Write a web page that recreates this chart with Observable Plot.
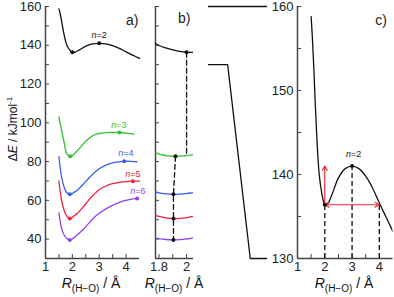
<!DOCTYPE html>
<html><head><meta charset="utf-8">
<script src="https://cdn.jsdelivr.net/npm/d3@7"></script>
<script src="https://cdn.jsdelivr.net/npm/@observablehq/plot@0.6"></script>
<style>
body{margin:0;background:#fff;}
#wrap{position:relative;width:394px;height:297px;overflow:hidden;font-family:"Liberation Sans",Arial,sans-serif;color:#111;}
#wrap svg{position:absolute;left:0;top:0;}
.xt{position:absolute;top:276px;font-size:14px;line-height:14px;white-space:nowrap;transform:translateX(-50%);}
.xt sub{font-size:10px;vertical-align:-4px;line-height:0;}
.yt{position:absolute;left:13px;top:129px;font-size:12px;white-space:nowrap;transform:translate(-50%,-50%) rotate(-90deg);}
.yt sup{font-size:8px;vertical-align:5px;line-height:0;}
</style>
</head><body>
<div id="wrap"></div>
<script>
// ---------- data ----------
const nLabels = ["n=2", "n=3", "n=4", "n=5", "n=6"];
const seriesColors = ["#111111", "#2fbf2f", "#3a5cf0", "#f0203c", "#8f42ee"];
const curveN2 = [[1.5,158.8],[1.55,156],[1.6,152.5],[1.65,148.5],[1.7,145],[1.75,142],[1.8,139.9],[1.85,138.6],[1.9,137.6],[1.95,136.8],[2.0,136.4],[2.1,136.5],[2.25,137.5],[2.5,139.6],[2.75,140.7],[3.0,141],[3.25,140.7],[3.5,139.8],[3.75,138.4],[4.0,136.6],[4.25,134.9],[4.5,133.2]];
const curveN3 = [[1.5,103],[1.6,96],[1.7,89.5],[1.75,85.8],[1.8,83.9],[1.85,83.1],[1.9,82.75],[1.95,82.8],[2.0,83.1],[2.05,83.6],[2.2,85.8],[2.4,89],[2.6,91.8],[2.8,93.6],[3.0,94.5],[3.25,94.9],[3.5,95.1],[3.75,95],[4.0,94.7],[4.3,94.2]];
const curveN4 = [[1.5,82.5],[1.6,72],[1.7,66.5],[1.75,64.9],[1.8,63.9],[1.85,63.35],[1.9,63.1],[1.95,63.2],[2.0,63.5],[2.05,64.0],[2.2,65.5],[2.4,68.2],[2.6,71.3],[2.8,74],[3.0,76.3],[3.25,78.2],[3.5,79.3],[3.75,79.9],[3.93,80.2],[4.2,80.1],[4.4,79.9]];
const curveN5 = [[1.5,70],[1.6,60],[1.7,54.5],[1.75,52.8],[1.8,51.7],[1.85,51.0],[1.9,50.6],[1.95,50.7],[2.0,51.1],[2.05,51.8],[2.2,53.5],[2.4,56.5],[2.6,60],[2.8,63],[3.0,65.5],[3.25,67.4],[3.5,68.6],[3.75,69.3],[4.0,69.7],[4.25,69.9],[4.5,69.9]];
const curveN6 = [[1.5,53.5],[1.6,45.5],[1.7,42],[1.75,41],[1.8,40.3],[1.85,39.8],[1.9,39.6],[1.95,39.7],[2.0,40.1],[2.05,40.7],[2.2,42.4],[2.4,45],[2.6,48],[2.8,51],[3.0,53.3],[3.25,55.6],[3.5,57.4],[3.75,59],[4.0,60],[4.2,60.6],[4.41,60.9]];
const minima = [[2.0,136.4],[1.92,82.7],[1.905,63.1],[1.905,50.6],[1.905,39.6]];
const maxima = [[3.0,141],[3.75,95],[3.93,80.2],[4.25,69.9],[4.41,60.9]];
const labelPos = [[3.0,145.2],[3.73,99],[3.99,84.6],[4.25,73.3],[4.44,64.6]];
const labelPosC = [3.06,142.4];
const dashB1 = [[2.0,136.4],[2.0,83.4]];
const dashB2 = [[1.92,82.7],[1.905,63.1],[1.905,50.6],[1.905,39.6]];
const dashC = [[2,136.4],[3,141],[4,136.6]];
const arrowsC = [[2,136.4,2,141],[3,136.4,2,136.4],[3,136.4,4,136.4]];
const connTop = [[0,160],[1,160]];
const connBottom = [[0,130],[0.33,130],[0.72,30],[1,30]];
// ticks
const yTicksA = [40,50,60,70,80,90,100,110,120,130,140,150,160];
const yLabelsA = [40,60,80,100,120,140,160];
const xTicksA = [1.5,2,2.5,3,3.5,4];
const xLabelsA = [1,2,3,4];
const xTicksB = [1.8,1.9,2.0];
const xLabelsB = [1.8,2];
const yTicksC = [135,140,145,150,155,160];
const yLabelsC = [130,140,150,160];

const curves = [curveN2, curveN3, curveN4, curveN5, curveN6];
const W = 394, H = 297, TOP = 6, BOTTOM = 258;
const axisColor = "#444";

function base(opts) {
  return Plot.plot({
    width: W, height: H,
    marginTop: TOP, marginBottom: H - BOTTOM,
    marginLeft: opts.left, marginRight: W - opts.right,
    x: {domain: opts.x, axis: null},
    y: {domain: opts.y, axis: null},
    style: {background: "transparent", fontFamily: "'Liberation Sans', Arial, sans-serif", fontSize: "13px", color: "#222", overflow: "visible"},
    marks: opts.marks
  });
}
function axes(x0, y0, yt, yl, xt, xl) {
  const m = [
    Plot.ruleX([x0], {stroke: axisColor, strokeWidth: 1.5}),
    Plot.ruleY([y0], {stroke: axisColor, strokeWidth: 1.5}),
    Plot.axisY({ticks: yt, tickSize: 4, dx: 4, text: null, stroke: axisColor}),
    Plot.axisX({ticks: xt, tickSize: 4, dy: -4, text: null, stroke: axisColor})
  ];
  if (yl) m.push(Plot.axisY({ticks: yl, tickSize: 0, tickPadding: 4, tickFormat: d => String(d)}));
  if (xl) m.push(Plot.axisX({ticks: xl, tickSize: 0, tickPadding: 3, tickFormat: d => String(d)}));
  return m;
}
function lines(clip) {
  return curves.map((c, i) => Plot.line(c, {x: d => d[0], y: d => d[1], stroke: seriesColors[i], strokeWidth: 1.3, curve: "catmull-rom", clip}));
}
function italicN(svg) {
  d3.select(svg).selectAll("text").each(function() {
    const t = this.textContent;
    if (/^n=/.test(t) && this.children.length === 0) {
      const s = d3.select(this); s.text("");
      s.append("tspan").attr("font-style", "italic").text("n");
      s.append("tspan").text(t.slice(1));
    }
  });
  return svg;
}

const wrap = document.getElementById("wrap");

// panel a
const pa = base({left: 45, right: 139, x: [1, 4.5], y: [30, 160], marks: [
  ...axes(1, 30, yTicksA, yLabelsA, xTicksA, xLabelsA),
  ...lines(false),
  Plot.dot(minima, {x: d => d[0], y: d => d[1], r: 2, fill: (d, i) => seriesColors[i], stroke: null}),
  Plot.dot(maxima, {x: d => d[0], y: d => d[1], r: 2, fill: (d, i) => seriesColors[i], stroke: null}),
  Plot.text(labelPos, {x: d => d[0], y: d => d[1], text: (d, i) => nLabels[i], fill: (d, i) => seriesColors[i], fontSize: 9}),
  Plot.text(["a)"], {frameAnchor: "top-right", textAnchor: "end", lineAnchor: "middle", dy: 14, dx: -1, fontSize: 14})
]});
wrap.appendChild(italicN(pa));

// panel b
const pb = base({left: 155, right: 193, x: [1.775, 2.05], y: [30, 160], marks: [
  ...axes(1.775, 30, yTicksA, null, xTicksB, xLabelsB),
  ...lines(true),
  Plot.line(dashB1, {x: d => d[0], y: d => d[1], stroke: "#111", strokeWidth: 1.3, strokeDasharray: "5,3"}),
  Plot.line(dashB2, {x: d => d[0], y: d => d[1], stroke: "#111", strokeWidth: 1.3, strokeDasharray: "5,3"}),
  Plot.dot(minima, {x: d => d[0], y: d => d[1], r: 2, fill: "#111", stroke: null}),
  Plot.text(["b)"], {frameAnchor: "top-right", textAnchor: "end", lineAnchor: "middle", dy: 12, dx: -3, fontSize: 14})
]});
wrap.appendChild(pb);

// connector
const pk = base({left: 208, right: 266, x: [0, 1], y: [30, 160], marks: [
  Plot.line(connTop, {x: d => d[0], y: d => d[1], stroke: "#111", strokeWidth: 1.3}),
  Plot.line(connBottom, {x: d => d[0], y: d => d[1], stroke: "#111", strokeWidth: 1.3})
]});
wrap.appendChild(pk);

// panel c
const pc = base({left: 297, right: 392.5, x: [1, 4.5], y: [130, 160], marks: [
  ...axes(1, 130, yTicksC, yLabelsC, xTicksA, xLabelsA),
  Plot.line(curveN2, {x: d => d[0], y: d => d[1], stroke: "#111", strokeWidth: 1.3, curve: "catmull-rom", clip: true}),
  Plot.ruleX(dashC, {x: d => d[0], y1: 130, y2: d => d[1], stroke: "#111", strokeWidth: 1.3, strokeDasharray: "5,3"}),
  Plot.arrow(arrowsC, {x1: d => d[0], y1: d => d[1], x2: d => d[2], y2: d => d[3], stroke: "#ee2a3a", strokeWidth: 1.2, headLength: 6}),
  Plot.dot([minima[0], maxima[0]], {x: d => d[0], y: d => d[1], r: 2, fill: "#111", stroke: null}),
  Plot.text([labelPosC], {x: d => d[0], y: d => d[1], text: [nLabels[0]], fill: "#111", fontSize: 9}),
  Plot.text(["c)"], {frameAnchor: "top-right", textAnchor: "end", lineAnchor: "middle", dy: 14, dx: -6, fontSize: 14})
]});
wrap.appendChild(italicN(pc));

// titles (HTML text)
const xTitle = '<i>R</i><sub>(H−O)</sub> / Å';
[[91], [174], [344]].forEach(([cx]) => {
  const d = document.createElement("div");
  d.className = "xt"; d.style.left = cx + "px"; d.innerHTML = xTitle;
  wrap.appendChild(d);
});
const yt = document.createElement("div");
yt.className = "yt"; yt.innerHTML = 'Δ<i>E</i> / kJmol<sup>-1</sup>';
wrap.appendChild(yt);
</script>
</body></html>
